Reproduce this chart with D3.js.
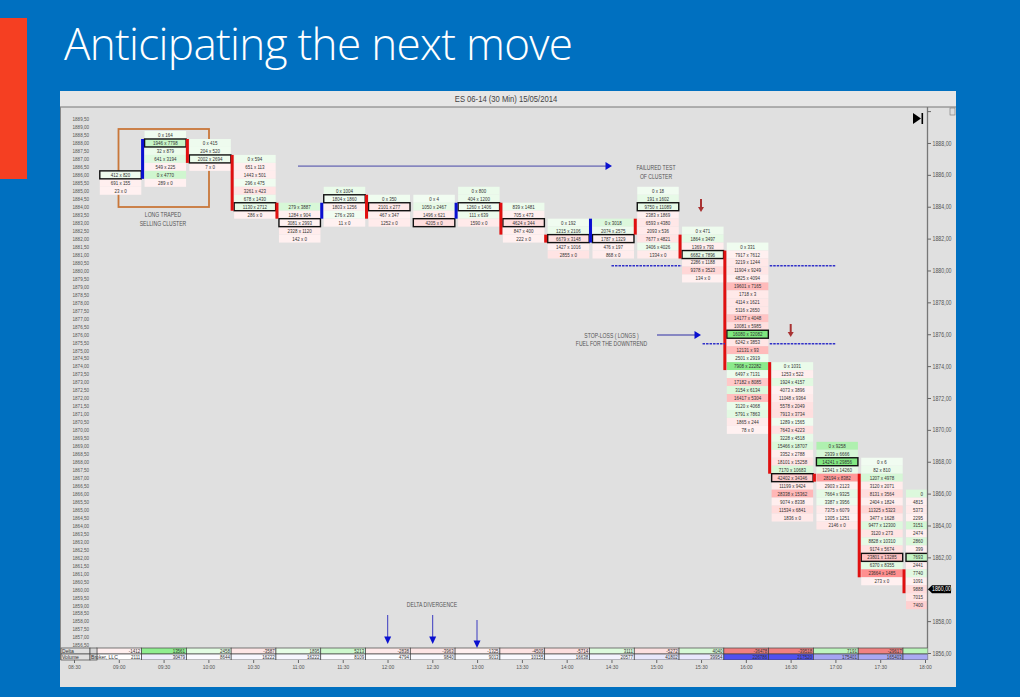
<!DOCTYPE html>
<html>
<head>
<meta charset="utf-8">
<script src="https://cdn.jsdelivr.net/npm/d3@7"></script>
<style>
html, body { margin: 0; padding: 0; background: #0070c0; overflow: hidden; }
text { font-family: "Liberation Sans", sans-serif; }
</style>
</head>
<body>
<div id="chart"></div>
<script>
// one entry per 30 min bar
var barTimes = ["09:00","09:30","10:00","10:30","11:00","11:30","12:00","12:30","13:00","13:30",
    "14:00","14:30","15:00","15:30","16:00","16:30","17:00","17:30","18:00"];
var axisTimes = ["08:30"].concat(barTimes);

// price of the first row of each bar
var topPrices = [1886,1888.5,1888,1887,1884,1885,1884.5,1884.5,1885,1884,1883,1883,1885,1882.5,1881.5,1874,1869,1868,1866];
// price of the boxed row of each bar
var pocPrices = [1886,1888,1887,1884,1883,1884.5,1884,1883,1884,1883,1882,1882,1884,1881,1876,1867,1868,1862,1862];

var bids = [
    [412,691,23],
    [0,1946,32,641,549,0,289],
    [0,204,2002,7],
    [0,651,1443,296,3261,678,1130,286],
    [279,1284,3081,2328,142],
    [0,1804,1803,276,11],
    [0,2101,467,1252],
    [0,1050,1496,4205],
    [0,404,1260,111,1590],
    [839,705,4624,847,222],
    [0,1215,6679,1427,2855],
    [0,2074,1787,476,868],
    [0,191,9750,2383,6593,2093,7677,3406,1334],
    [0,1864,1369,6682,2286,9378,134],
    [0,7917,3219,11904,4825,19601,1718,4114,5116,14177,10081,16080,6242,12131,2501,7908,6497,17182,3154,16417,3120,5791,1865,78],
    [0,1253,1924,4073,11048,5578,7913,1289,7643,3228,15466,3352,18101,7170,42402,11199,28338,9074,11534,1836],
    [0,2939,14241,12941,28194,2903,7664,3387,7375,1305,2146],
    [0,82,1207,3120,8131,2404,11325,3477,9477,3120,8828,9174,23801,6370,23664,273],
    [0,4815,5373,2295,3151,2474,2860,399,7693,2441,7740,1091,9888,7015,7400]
];
// the asks of the 18:00 bar are cut off in the picture
var asks = [
    [820,155,0],
    [164,7798,879,3194,225,4770,0],
    [415,520,2694,0],
    [594,113,501,475,423,1430,2712,0],
    [3887,904,2993,1120,0],
    [1004,1860,1256,293,0],
    [350,277,347,0],
    [4,2467,621,0],
    [800,1200,1406,639,0],
    [1481,473,344,400,0],
    [192,2106,3148,1016,0],
    [3018,2575,1329,197,0],
    [18,1602,11089,1869,4380,536,4821,4026,0],
    [471,3497,793,7896,1188,3523,0],
    [331,7612,1244,9249,4094,7165,3,1621,2650,4048,5985,32082,3853,93,2919,22282,7131,8085,6134,5304,4068,7863,244,0],
    [1031,522,4157,3896,9364,2049,3734,1565,4223,4518,18707,2788,15258,10683,34346,9424,15362,8338,6841,0],
    [9258,6666,29856,14260,8382,2123,9325,3956,6079,1251,0],
    [6,810,4978,2071,3564,1824,5323,1628,12300,273,10310,5674,13285,8355,1485,0],
    [2900,4400,3800,2100,7200,2000,5900,350,14000,2100,9800,900,5200,4400,0]
];

// open and close of the thick body left of each bar, null where there is none
var bodyOpen = [null,1886,1888,1887,1884,1883.5,1884.5,null,1883.5,1884,1882,1882,1883,1882,1881,1874,1867,1867,1861];
var bodyClose = [null,1888,1887,1884,1883.5,1884,1883.5,null,1884,1882.5,1882,1883,1882.5,1881,1874,1867.5,1867,1861,1860];

var deltaValues = [-1412,13561,2458,-3587,1895,5213,-2838,-3963,-1325,-4509,-5714,3111,-5272,4040,-36478,-39518,7191,-29617,7800];
var volumeValues = [2111,30479,8644,16222,16222,8109,4794,9840,9013,10155,16638,20577,41802,39954,226786,217520,175401,165403,150000];

var priceLevels = d3.range(1889.5, 1856, -0.5);
var axisPrices = d3.range(1890, 1855, -2);
var lastPrice = 1860;

var W = 1020, H = 697;
var parseTime = d3.utcParse("%H:%M");
var fmtPrice = function(p) { return d3.format(".2f")(p).replace(".", ","); };

var x = d3.scaleUtc().domain([parseTime("08:30"), parseTime("18:00")]).range([74, 925]);
var y = d3.scaleLinear().domain([1890, 1856]).range([111.1, 653]);
var at = function(t) { return x(parseTime(t)); };

var cellColor = d3.scaleLinear()
    .domain([-22000, -1, 0, 1, 16000])
    .range(["#ff8f8f", "#fff1f1", "#ffffff", "#f1fcf1", "#7fe87f"])
    .clamp(true);
var deltaColor = d3.scaleLinear()
    .domain([-30000, -1, 0, 1, 13500])
    .range(["#f08080", "#fff4f4", "#ffffff", "#f4fff4", "#90ee90"])
    .clamp(true);
var volumeColor = d3.scaleLinear()
    .domain([0, 150000, 175000, 217000])
    .range(["#ffffff", "#aaaaf2", "#a6a6f2", "#5050f0"])
    .clamp(true);

// the chart font is a narrow one, squeeze the text around its anchor
function squeeze(sel, k) {
    sel.attr("transform", function() {
        var x0 = +this.getAttribute("x") || 0;
        return "translate(" + x0 + ",0) scale(" + k + ",1) translate(" + (-x0) + ",0)";
    });
}

var svg = d3.select("#chart").append("svg")
    .attr("width", W)
    .attr("height", H)
    .style("display", "block");

// slide background
svg.append("rect").attr("width", W).attr("height", H).attr("fill", "#0070c0");
svg.append("rect").attr("x", 0).attr("y", 18).attr("width", 27).attr("height", 161).attr("fill", "#f53f22");
svg.append("text")
    .attr("x", 64).attr("y", 60)
    .attr("fill", "#fff")
    .style("font-family", "'Open Sans', sans-serif")
    .style("font-weight", 300)
    .style("font-size", "44px")
    .attr("textLength", 509)
    .text("Anticipating the next move");

// chart window
svg.append("rect").attr("x", 60).attr("y", 91).attr("width", 896).attr("height", 596).attr("fill", "#e0e0e0");
svg.append("rect").attr("x", 60).attr("y", 91).attr("width", 896).attr("height", 16).attr("fill", "#e6e6e6");
svg.append("line").attr("x1", 60).attr("x2", 956).attr("y1", 107).attr("y2", 107).attr("stroke", "#777").attr("stroke-width", 1.2);
svg.append("line").attr("x1", 60.5).attr("x2", 60.5).attr("y1", 107).attr("y2", 660).attr("stroke", "#888");
svg.append("text")
    .attr("x", 506).attr("y", 102)
    .attr("text-anchor", "middle")
    .attr("fill", "#444")
    .style("font-size", "9px")
    .text("ES 06-14 (30 Min) 15/05/2014")
    .call(squeeze, 0.85);

svg.append("clipPath").attr("id", "plotClip")
    .append("rect").attr("x", 60).attr("y", 107).attr("width", 867.5).attr("height", 553);

// price list on the left
var leftAxis = d3.axisLeft(y).tickValues(priceLevels).tickSize(0).tickFormat(fmtPrice);
svg.append("g")
    .attr("transform", "translate(92,0)")
    .call(leftAxis)
    .call(function(g) { g.select(".domain").remove(); })
    .selectAll("text")
    .attr("fill", "#555")
    .style("font-size", "5.7px")
    .call(squeeze, 0.8);

// the box goes under the cells
svg.append("rect")
    .attr("x", 118.5).attr("y", 129).attr("width", 90.5).attr("height", 78)
    .attr("fill", "none").attr("stroke", "#c9773a").attr("stroke-width", 1.8);

var plot = svg.append("g").attr("clip-path", "url(#plotClip)");

// footprint bars
var barWidth = 41.5, rowHeight = y(1888) - y(1888.5);

var rows = [];
barTimes.forEach(function(t, i) {
    bids[i].forEach(function(b, j) {
        rows.push({ time: t, price: topPrices[i] - j * 0.5, bid: b, ask: asks[i][j], poc: topPrices[i] - j * 0.5 === pocPrices[i] });
    });
});

var row = plot.append("g").selectAll("g")
    .data(rows)
    .enter().append("g")
    .attr("transform", function(d) { return "translate(" + (at(d.time) - 19) + "," + (y(d.price) - rowHeight / 2) + ")"; });

row.append("rect")
    .attr("width", barWidth)
    .attr("height", rowHeight)
    .attr("fill", function(d) { return cellColor(d.ask - d.bid); });

// the last bar is cut by the axis, only its bid shows
row.append("text")
    .attr("x", function(d) { return d.time === "18:00" ? 17 : barWidth / 2; })
    .attr("y", rowHeight / 2 + 2)
    .attr("text-anchor", function(d) { return d.time === "18:00" ? "end" : "middle"; })
    .attr("fill", "#333")
    .style("font-size", "5.6px")
    .text(function(d) { return d.time === "18:00" ? d.bid : d.bid + " x " + d.ask; })
    .call(squeeze, 0.8);

plot.append("g").selectAll("rect")
    .data(rows.filter(function(d) { return d.poc; }))
    .enter().append("rect")
    .attr("x", function(d) { return at(d.time) - 19; })
    .attr("y", function(d) { return y(d.price) - rowHeight / 2; })
    .attr("width", barWidth)
    .attr("height", rowHeight)
    .attr("fill", "none")
    .attr("stroke", "#111")
    .attr("stroke-width", 1.4);

// bodies, blue when the bar closed up
var bodies = barTimes.map(function(t, i) { return { time: t, open: bodyOpen[i], close: bodyClose[i] }; })
    .filter(function(d) { return d.open !== null; });

plot.append("g").selectAll("rect")
    .data(bodies)
    .enter().append("rect")
    .attr("x", function(d) { return at(d.time) - 22.5; })
    .attr("y", function(d) { return y(Math.max(d.open, d.close)) - rowHeight / 2; })
    .attr("width", 3)
    .attr("height", function(d) { return Math.abs(y(d.open) - y(d.close)) + rowHeight; })
    .attr("fill", function(d) { return d.close > d.open ? "#0a10d0" : "#e01010"; });

// right axis
var rightAxis = d3.axisRight(y).tickValues(axisPrices).tickSize(3.5).tickPadding(1.5)
    .tickFormat(function(p) { return p === 1890 ? "" : fmtPrice(p); });
var rightG = svg.append("g").attr("transform", "translate(927.5,0)").call(rightAxis);
rightG.select(".domain").attr("stroke", "#777").attr("stroke-width", 1.3).attr("d", "M0,107V660");
rightG.selectAll(".tick line").attr("stroke", "#666");
rightG.selectAll("text").attr("fill", "#555").style("font-size", "6.6px").call(squeeze, 0.8);

// last price flag
var flag = svg.append("g").attr("transform", "translate(928," + y(lastPrice) + ")");
flag.append("path").attr("d", "M0,0L4,-4H23V4H4Z").attr("fill", "#000");
flag.append("text").attr("x", 13.5).attr("y", 2.2).attr("text-anchor", "middle").attr("fill", "#fff")
    .style("font-size", "6.6px").text(fmtPrice(lastPrice)).call(squeeze, 0.8);

// delta and volume rows
var panelDelta = 648, panelVol = 654, panelEnd = 660;
var panel = svg.append("g").attr("clip-path", "url(#plotClip)");

function drawStrip(values, color, top, bottom) {
    var cell = panel.append("g").selectAll("g")
        .data(barTimes)
        .enter().append("g")
        .attr("transform", function(t) { return "translate(" + (at(t) - 22) + "," + top + ")"; });
    cell.append("rect")
        .attr("width", 44.8)
        .attr("height", bottom - top)
        .attr("fill", function(t, i) { return color(values[i]); })
        .attr("stroke", "#444")
        .attr("stroke-width", 0.7);
    // the 18:00 number lies past the axis
    cell.filter(function(t) { return t !== "18:00"; }).append("text")
        .attr("x", 43.5)
        .attr("y", bottom - top - 0.8)
        .attr("text-anchor", "end")
        .attr("fill", "#333")
        .style("font-size", "5.6px")
        .text(function(t) { return values[barTimes.indexOf(t)]; })
        .call(squeeze, 0.8);
}
drawStrip(deltaValues, deltaColor, panelDelta, panelVol);
drawStrip(volumeValues, volumeColor, panelVol, panelEnd);

// label boxes of the strips
[[panelDelta, panelVol, "Delta"], [panelVol, panelEnd, "Volume"]].forEach(function(b) {
    svg.append("rect").attr("x", 61).attr("y", b[0]).attr("width", 29).attr("height", b[1] - b[0]).attr("fill", "#e0e0e0").attr("stroke", "#444").attr("stroke-width", 0.7);
    svg.append("rect").attr("x", 90).attr("y", b[0]).attr("width", 7).attr("height", b[1] - b[0]).attr("fill", "#d8d8d8").attr("stroke", "#444").attr("stroke-width", 0.7);
    svg.append("text").attr("x", 62).attr("y", b[1] - 0.8).attr("fill", "#333").style("font-size", "6px").text(b[2]).call(squeeze, 0.85);
});
svg.append("text").attr("x", 91).attr("y", panelEnd - 0.8).attr("fill", "#333").style("font-size", "6px").text("Broker, LLC").call(squeeze, 0.85);

// time axis
var timeAxis = d3.axisBottom(x)
    .tickValues(axisTimes.map(parseTime))
    .tickSize(3)
    .tickPadding(2)
    .tickFormat(d3.utcFormat("%H:%M"));
var timeG = svg.append("g").attr("transform", "translate(0," + panelEnd + ")").call(timeAxis);
timeG.select(".domain").remove();
timeG.selectAll(".tick line").attr("stroke", "#666");
timeG.selectAll("text").attr("fill", "#555").style("font-size", "6.2px").call(squeeze, 0.8);

// chart toolbar marks
svg.append("path").attr("d", "M913,113L921,118.5L913,124Z").attr("fill", "#000");
svg.append("rect").attr("x", 921.5).attr("y", 113).attr("width", 1.6).attr("height", 11).attr("fill", "#000");
svg.append("rect").attr("x", 950).attr("y", 108).attr("width", 5).attr("height", 7).attr("fill", "#ddd").attr("stroke", "#777").attr("stroke-width", 0.6);

// annotations
var noteLines = [
    { x: 163, y: 217, text: "LONG TRAPED" },
    { x: 163, y: 226, text: "SELLING CLUSTER" },
    { x: 656, y: 170, text: "FAILURED TEST" },
    { x: 656, y: 179, text: "OF CLUSTER" },
    { x: 611.5, y: 338, text: "STOP-LOSS ( LONGS )" },
    { x: 611.5, y: 346.5, text: "FUEL FOR THE DOWNTREND" },
    { x: 432, y: 607, text: "DELTA DIVERGENCE" }
];
svg.append("g").selectAll("text")
    .data(noteLines)
    .enter().append("text")
    .attr("x", function(d) { return d.x; })
    .attr("y", function(d) { return d.y; })
    .attr("text-anchor", "middle")
    .attr("fill", "#555")
    .style("font-size", "6.7px")
    .text(function(d) { return d.text; })
    .call(squeeze, 0.76);

var hArrows = [
    { x1: 298, x2: 612, price: 1886.55, stroke: "#4545a8", w: 1 },
    { x1: 657, x2: 701, price: 1875.95, stroke: "#6a6ab8", w: 1.6 }
];
hArrows.forEach(function(a) {
    var py = y(a.price);
    svg.append("line").attr("x1", a.x1).attr("x2", a.x2 - 5).attr("y1", py).attr("y2", py).attr("stroke", a.stroke).attr("stroke-width", a.w);
    svg.append("path").attr("d", "M" + (a.x2 - 6.5) + "," + (py - 4) + "L" + a.x2 + "," + py + "L" + (a.x2 - 6.5) + "," + (py + 4) + "Z").attr("fill", "#0a10d0");
});

var vArrows = [
    { x: 387.7, y1: 615, y2: 644 },
    { x: 432.7, y1: 615, y2: 644 },
    { x: 477, y1: 620, y2: 648 }
];
vArrows.forEach(function(a) {
    svg.append("line").attr("x1", a.x).attr("x2", a.x).attr("y1", a.y1).attr("y2", a.y2 - 6).attr("stroke", "#3a3ac0").attr("stroke-width", 1);
    svg.append("path").attr("d", "M" + (a.x - 3.5) + "," + (a.y2 - 7.5) + "H" + (a.x + 3.5) + "L" + a.x + "," + a.y2 + "Z").attr("fill", "#0a10d0");
});

var redArrows = [{ x: 701, y1: 199, y2: 212 }, { x: 790.7, y1: 324, y2: 337 }];
redArrows.forEach(function(a) {
    svg.append("line").attr("x1", a.x).attr("x2", a.x).attr("y1", a.y1).attr("y2", a.y2 - 4).attr("stroke", "#a83232").attr("stroke-width", 2);
    svg.append("path").attr("d", "M" + (a.x - 3) + "," + (a.y2 - 5) + "H" + (a.x + 3) + "L" + a.x + "," + a.y2 + "Z").attr("fill", "#a83232");
});

var dashes = [
    { from: "14:30", to: "15:17", price: 1880.3 },
    { from: "16:16", to: "17:00", price: 1880.3 },
    { from: "15:31", to: "15:46", price: 1875.4 },
    { from: "16:16", to: "17:00", price: 1875.4 }
];
svg.append("g").selectAll("line")
    .data(dashes)
    .enter().append("line")
    .attr("x1", function(d) { return at(d.from); })
    .attr("x2", function(d) { return at(d.to); })
    .attr("y1", function(d) { return y(d.price); })
    .attr("y2", function(d) { return y(d.price); })
    .attr("stroke", "#3030c8")
    .attr("stroke-width", 1.4)
    .attr("stroke-dasharray", "2.5,1");
</script>
</body>
</html>
